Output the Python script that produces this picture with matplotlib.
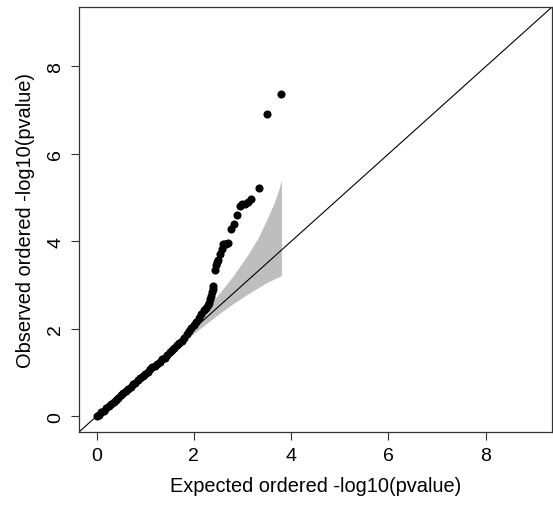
import matplotlib
matplotlib.use("Agg")
import matplotlib.pyplot as plt

plt.rcParams['font.family'] = ['Liberation Sans', 'DejaVu Sans']

# ---------------- DATA ---------------- #

# expected / observed -log10(pvalue)
expected = [0.00, 0.05, 0.10, 0.15, 0.20, 0.25, 0.30, 0.35, 0.40, 0.45,
            0.50, 0.55, 0.60, 0.65, 0.70, 0.75, 0.80, 0.85, 0.90, 0.95,
            1.00, 1.05, 1.10, 1.15, 1.20, 1.25, 1.30, 1.35, 1.40, 1.45,
            1.50, 1.55, 1.60, 1.65, 1.70, 1.75, 1.80, 1.85, 1.90, 1.95,
            2.00, 2.05, 2.10, 2.15, 2.20, 2.25, 2.29, 2.31, 2.34, 2.36,
            2.38, 2.39, 2.40, 2.43, 2.45, 2.48, 2.50, 2.53, 2.57, 2.60,
            2.64, 2.67, 2.70, 2.77, 2.83, 2.89, 2.94, 2.98, 3.05, 3.11,
            3.18, 3.33, 3.50, 3.80]
observed = [0.00, 0.04, 0.09, 0.13, 0.18, 0.23, 0.28, 0.33, 0.37, 0.42,
            0.48, 0.53, 0.58, 0.63, 0.68, 0.73, 0.77, 0.82, 0.87, 0.92,
            0.97, 1.02, 1.07, 1.12, 1.16, 1.20, 1.25, 1.30, 1.34, 1.40,
            1.46, 1.52, 1.57, 1.62, 1.67, 1.73, 1.80, 1.87, 1.94, 2.01,
            2.08, 2.16, 2.25, 2.33, 2.42, 2.48, 2.54, 2.60, 2.68, 2.76,
            2.85, 2.92, 2.99, 3.34, 3.45, 3.52, 3.57, 3.72, 3.83, 3.93,
            3.94, 3.95, 3.97, 4.29, 4.39, 4.61, 4.82, 4.85, 4.86, 4.89,
            4.98, 5.22, 6.92, 7.36]

# confidence band
band_x = [0.00, 0.30, 0.80, 1.10, 1.50, 1.80, 2.10, 2.50, 2.80, 3.10,
          3.32, 3.50, 3.65, 3.75, 3.80]
band_up = [0.00, 0.32, 0.83, 1.14, 1.57, 1.90, 2.25, 2.78, 3.20, 3.68,
           4.08, 4.50, 4.88, 5.20, 5.40]
band_lo = [0.00, 0.29, 0.77, 1.06, 1.44, 1.72, 1.98, 2.33, 2.57, 2.79,
           2.94, 3.06, 3.14, 3.19, 3.22]

ticks = [0, 2, 4, 6, 8]
lim = (-0.36, 9.36)

# ---------------- PLOT ---------------- #

fig = plt.figure(figsize=(5.53, 5.10), dpi=100)
ax = fig.add_axes([79 / 553, 77 / 510, 473 / 553, 425 / 510])

ax.fill_between(band_x, band_lo, band_up, color="#BEBEBE", linewidth=0)
ax.plot(lim, lim, color="black", linewidth=0.8)
ax.scatter(expected, observed, s=34, color="black", linewidths=0, zorder=3)

ax.set_xlim(lim)
ax.set_ylim(lim)
ax.set_xticks(ticks)
ax.set_yticks(ticks)
ax.tick_params(direction="out", length=5.5, width=0.8, labelsize=14,
               pad=5, colors="#333333", labelcolor="black")
plt.setp(ax.get_yticklabels(), rotation=90, va="center")

for s in ax.spines.values():
    s.set_linewidth(0.9)
    s.set_color("#333333")

ax.set_xlabel("Expected ordered -log10(pvalue)", fontsize=14.4, labelpad=9)
ax.set_ylabel("Observed ordered -log10(pvalue)", fontsize=14.4, labelpad=9)

fig.savefig("out.png", dpi=100)
